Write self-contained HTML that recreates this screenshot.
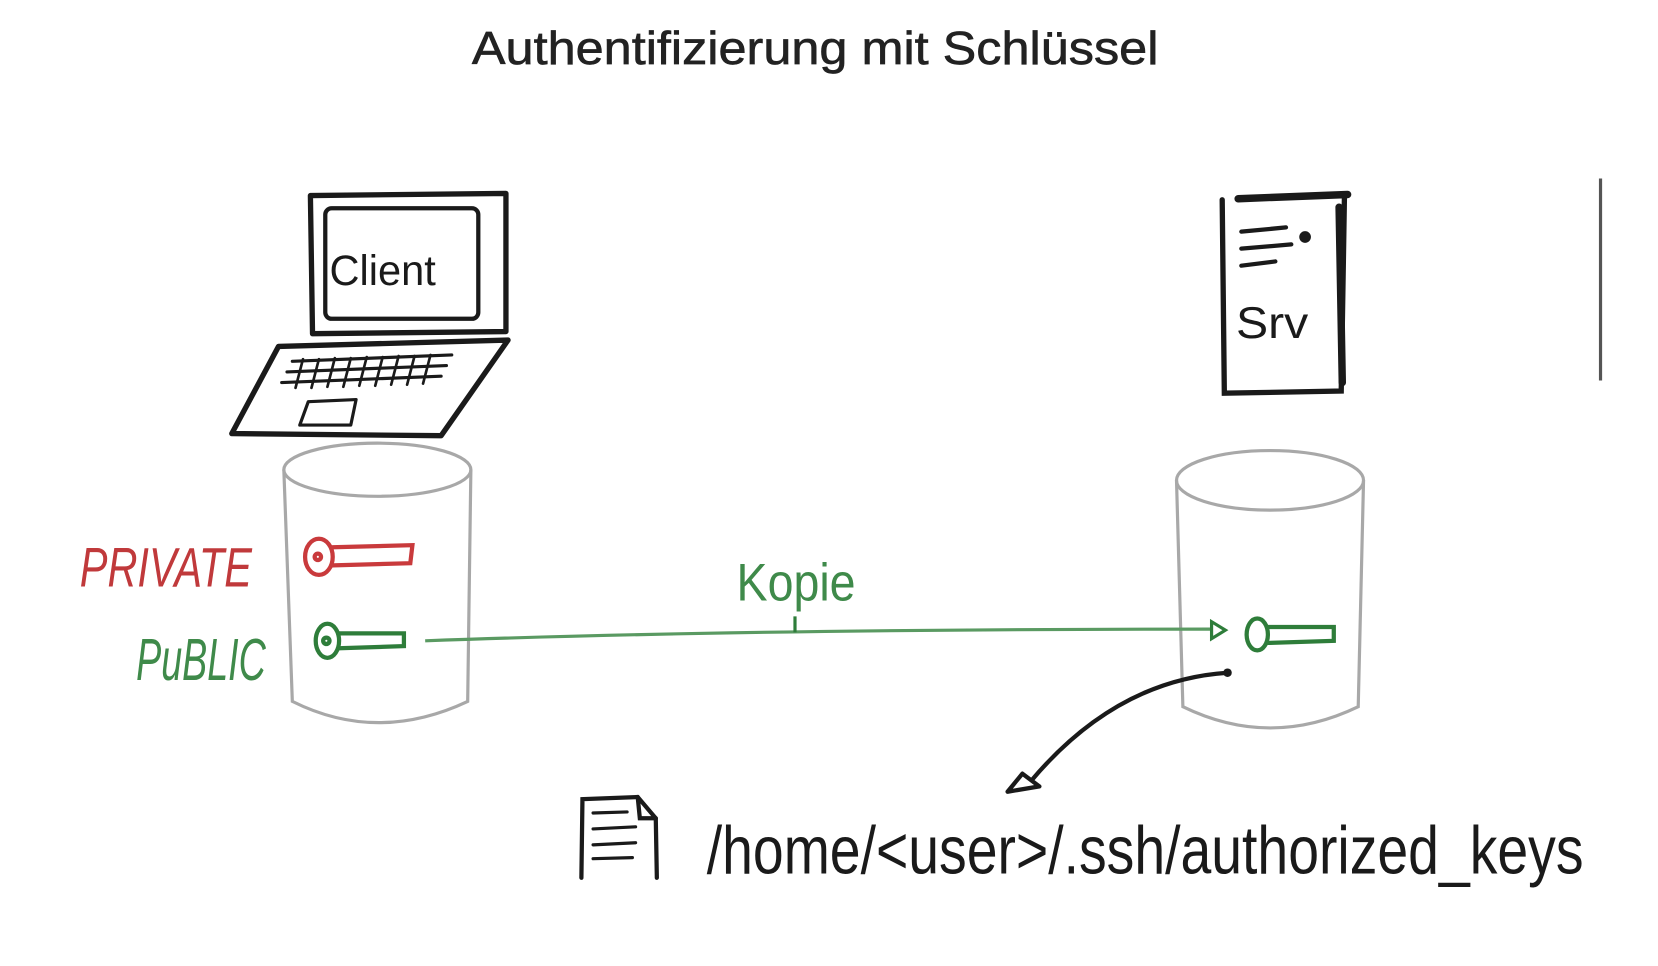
<!DOCTYPE html>
<html><head><meta charset="utf-8"><style>
html,body{margin:0;padding:0;background:#fff;width:1658px;height:966px;overflow:hidden}
svg{display:block}
</style></head><body>
<svg width="1658" height="966" viewBox="0 0 1560 909" xmlns="http://www.w3.org/2000/svg">
<text x="444" y="60" font-family="Liberation Sans, sans-serif" font-size="44" fill="#222" stroke="#222" stroke-width="0.6" textLength="646" lengthAdjust="spacingAndGlyphs">Authentifizierung mit Schlüssel</text>

<!-- laptop -->
<g fill="none" stroke="#1a1a1a" stroke-width="5" stroke-linejoin="round" stroke-linecap="round">
<path d="M292 184 L476 182 L476 312 L294 314 Z"/>
<rect x="306" y="196" width="144" height="104" rx="6" stroke-width="4"/>
<path d="M262 326 L478 320 L415 410 L218 408 Z"/>
<path d="M275 340 L425 334 M270 350 L420 344 M265 360 L415 354" stroke-width="3"/>
<path d="M285 338 L278 365 M300 338 L293 365 M315 337 L308 364 M330 337 L323 364 M345 336 L338 363 M360 336 L353 363 M375 335 L368 362 M390 335 L383 362 M405 334 L398 361" stroke-width="2.5"/>
<path d="M290 378 L335 376 L330 400 L282 400 Z" stroke-width="3"/>
</g>
<text x="310" y="268" font-family="Liberation Sans, sans-serif" font-size="40" fill="#1a1a1a" textLength="100" lengthAdjust="spacingAndGlyphs">Client</text>

<!-- server -->
<g fill="none" stroke="#1a1a1a" stroke-width="5" stroke-linecap="round">
<path d="M1150 188 L1152 370 L1262 368 L1265 186"/>
<path d="M1165 187 L1268 183" stroke-width="7"/>
<path d="M1260 195 L1263 360" stroke-width="7"/>
<path d="M1168 218 L1210 214 M1168 234 L1215 230 M1168 250 L1200 246" stroke-width="4"/>
<circle cx="1228" cy="223" r="3" fill="#1a1a1a"/>
</g>
<text x="1163" y="318" font-family="Liberation Sans, sans-serif" font-size="42" fill="#1a1a1a" textLength="68" lengthAdjust="spacingAndGlyphs">Srv</text>

<line x1="1506" y1="168" x2="1506" y2="358" stroke="#555" stroke-width="3"/>

<!-- cylinders -->
<g fill="none" stroke="#a8a8a8" stroke-width="3">
<ellipse cx="355" cy="442" rx="88" ry="25"/>
<path d="M267 442 L275 660 Q355 700 440 660 L443 442"/>
<ellipse cx="1195" cy="452" rx="88" ry="28"/>
<path d="M1107 452 L1113 665 Q1195 705 1278 665 L1283 452"/>
</g>

<!-- labels -->
<text x="75" y="552" font-family="Liberation Sans, sans-serif" font-size="52" fill="#c0393b" textLength="162" lengthAdjust="spacingAndGlyphs" font-style="italic">PRIVATE</text>
<text x="128" y="640" font-family="Liberation Sans, sans-serif" font-size="56" fill="#3f8a4a" textLength="122" lengthAdjust="spacingAndGlyphs" font-style="italic">PuBLIC</text>

<!-- keys -->
<g fill="none" stroke-width="4" stroke-linecap="round">
<g stroke="#c93a3c"><ellipse cx="300" cy="524" rx="13" ry="17"/><path d="M313 515 L388 513 L386 530 L313 532"/><circle cx="299" cy="524" r="3"/></g>
<g stroke="#2e7d3a"><ellipse cx="308" cy="603" rx="11" ry="16"/><path d="M319 596 L380 596 L380 608 L319 610"/><circle cx="307" cy="603" r="3"/></g>
<g stroke="#2e7d3a"><ellipse cx="1183" cy="597" rx="10" ry="15"/><path d="M1193 590 L1255 590 L1255 603 L1193 605"/></g>
</g>

<!-- green line -->
<path d="M400 603 Q700 592 1140 592" fill="none" stroke="#5a9a62" stroke-width="3"/>
<path d="M1140 585 L1153 593 L1140 601 Z" fill="none" stroke="#2e7d3a" stroke-width="3"/>
<line x1="748" y1="580" x2="748" y2="595" stroke="#2e7d3a" stroke-width="3"/>
<text x="693" y="565" font-family="Liberation Sans, sans-serif" font-size="50" fill="#3f8a4a" textLength="112" lengthAdjust="spacingAndGlyphs">Kopie</text>

<!-- black curve -->
<path d="M1155 633 Q1050 640 970 735" fill="none" stroke="#1a1a1a" stroke-width="4"/>
<circle cx="1155" cy="633" r="4" fill="#1a1a1a"/>
<path d="M962 728 L948 745 L978 740 Z" fill="none" stroke="#1a1a1a" stroke-width="4" stroke-linejoin="round"/>

<!-- doc icon -->
<g fill="none" stroke="#1a1a1a" stroke-width="4" stroke-linecap="round">
<path d="M547 826 L548 752 L600 750 L617 770 L618 826"/>
<path d="M600 750 L602 770 L617 770"/>
<path d="M558 765 L590 764 M558 780 L598 778 M558 795 L598 793 M558 808 L595 807" stroke-width="3"/>
</g>
<text x="665" y="822" font-family="Liberation Sans, sans-serif" font-size="64" fill="#1a1a1a" textLength="825" lengthAdjust="spacingAndGlyphs">/home/&lt;user&gt;/.ssh/authorized_keys</text>
</svg>
</body></html>
